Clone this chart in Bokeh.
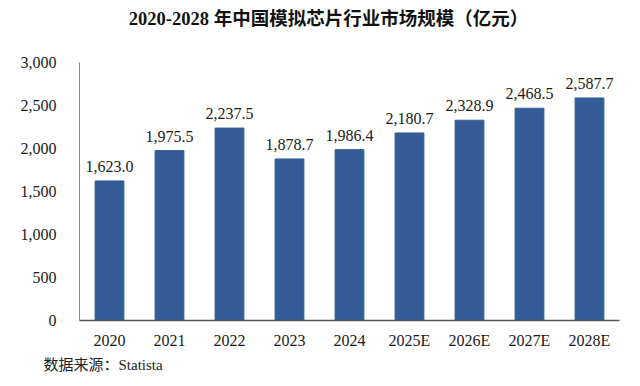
from bokeh.plotting import figure
from bokeh.models import FactorRange, Range1d, Title, Label, ColumnDataSource, NumeralTickFormatter, FixedTicker
from bokeh.core.properties import value
from bokeh.embed import file_html
from bokeh.resources import INLINE

years = ["2020", "2021", "2022", "2023", "2024", "2025E", "2026E", "2027E", "2028E"]
market = [1623.0, 1975.5, 2237.5, 1878.7, 1986.4, 2180.7, 2328.9, 2468.5, 2587.7]
y_ticks = [0, 500, 1000, 1500, 2000, 2500, 3000]

labels = [f"{v:,.1f}" for v in market]
src = ColumnDataSource(dict(x=years, top=market, label=labels))

SERIF = "Liberation Serif, Times New Roman, Noto Sans CJK SC, serif"

# frame spans 318 px vertically; 0..3000 should occupy 258 px of it
Y_MAX = 3000
y_end = Y_MAX * 318 / 258

p = figure(x_range=FactorRange(factors=years), y_range=Range1d(0, y_end),
           width=632, height=378, output_backend="svg", toolbar_location=None,
           min_border_left=79, min_border_right=13, min_border_top=2, min_border_bottom=58)

p.vbar(x="x", top="top", width=0.48, source=src, color="#335C96")
p.text(x="x", y="top", text="label", source=src, text_align="center", text_baseline="bottom",
       y_offset=-9, text_font=value(SERIF), text_font_size="16px", text_color="#1a1a1a")

title = Label(x=249, y=302, x_units="screen", y_units="screen",
              text="2020-2028 年中国模拟芯片行业市场规模（亿元）",
              text_align="center", text_baseline="middle",
              text_font=SERIF, text_font_size="18.5px", text_font_style="bold",
              text_color="#111111")
p.add_layout(title)

p.add_layout(Title(text="数据来源：Statista", align="left", offset=-36,
                   text_font=SERIF, text_font_size="15px", text_font_style="normal",
                   text_color="#222222", standoff=6), "below")

p.xgrid.visible = False
p.ygrid.visible = False
p.outline_line_color = None

p.yaxis.ticker = FixedTicker(ticks=y_ticks)
p.yaxis.bounds = (0, Y_MAX)
p.yaxis.formatter = NumeralTickFormatter(format="0,0")
p.yaxis.major_tick_line_color = None
p.yaxis.minor_tick_line_color = None
p.yaxis.axis_line_color = "#8a8a8a"
p.yaxis.major_label_standoff = 17
p.yaxis.major_label_text_font = SERIF
p.yaxis.major_label_text_font_size = "16px"
p.yaxis.major_label_text_color = "#1a1a1a"

p.xaxis.major_tick_line_color = None
p.xaxis.minor_tick_line_color = None
p.xaxis.axis_line_color = "#555555"
p.xaxis.axis_line_width = 1.5
p.xaxis.major_label_standoff = 5
p.xaxis.major_label_text_font = SERIF
p.xaxis.major_label_text_font_size = "16px"
p.xaxis.major_label_text_color = "#1a1a1a"

open("out.html", "w").write(file_html(p, INLINE))
